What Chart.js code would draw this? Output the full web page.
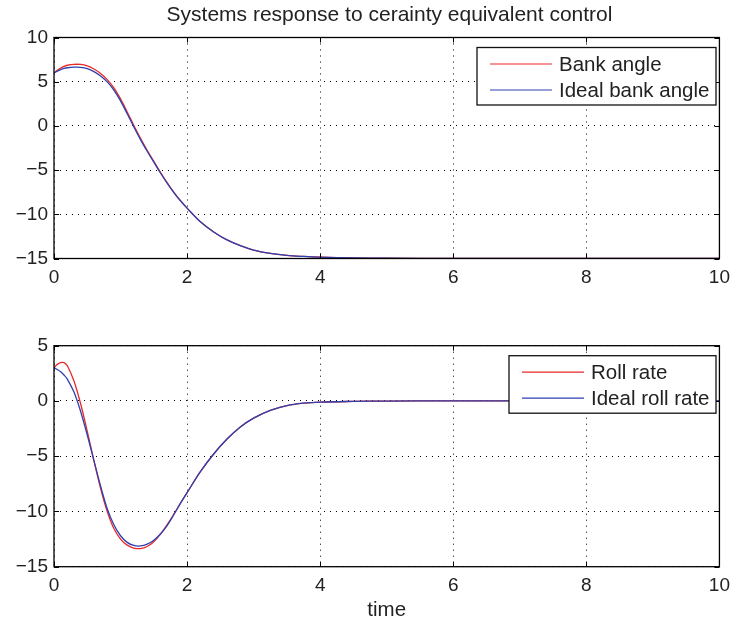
<!DOCTYPE html>
<html>
<head>
<meta charset="utf-8">
<script src="https://cdn.jsdelivr.net/npm/chart.js@4.4.1/dist/chart.umd.min.js"></script>
<style>
  body { margin: 0; background: #fff; }
  #wrap { position: relative; width: 738px; height: 627px; font-family: "Liberation Sans", Arial, sans-serif; }
  #title { position: absolute; left: 54px; width: 671px; top: 2px; line-height: 24px; text-align: center; font-size: 21px; color: #222; }
  #top-box { position: absolute; left: 0; top: 0; width: 738px; height: 300px; }
  #bot-box { position: absolute; left: 0; top: 300px; width: 738px; height: 327px; }
</style>
</head>
<body>
<div id="wrap">
  <div id="top-box"><canvas id="topChart"></canvas></div>
  <div id="bot-box"><canvas id="botChart"></canvas></div>
  <div id="title">Systems response to cerainty equivalent control</div>
</div>
<script>
const time = [0, 0.05, 0.1, 0.15, 0.2, 0.3, 0.4, 0.5, 0.6, 0.7, 0.8, 0.9, 1.0, 1.1, 1.2, 1.3, 1.4, 1.5, 1.6, 1.7, 1.8, 1.9, 2.0, 2.2, 2.4, 2.6, 2.8, 3.0, 3.25, 3.5, 3.75, 4.0, 4.5, 5, 6, 7, 8, 9, 10];

const bankAngle = [6.0, 6.3, 6.55, 6.74, 6.86, 6.96, 6.95, 6.78, 6.43, 5.92, 5.23, 4.3, 3.05, 1.58, 0.05, -1.4, -2.75, -4.0, -5.25, -6.42, -7.5, -8.45, -9.3, -10.85, -12.0, -12.9, -13.55, -14.05, -14.42, -14.65, -14.77, -14.85, -14.93, -14.97, -15, -15, -15, -15, -15];
const idealBankAngle = [6.0, 6.2, 6.37, 6.5, 6.58, 6.64, 6.62, 6.47, 6.14, 5.65, 4.98, 4.06, 2.83, 1.38, -0.12, -1.55, -2.87, -4.1, -5.33, -6.48, -7.54, -8.47, -9.3, -10.85, -12.0, -12.9, -13.55, -14.05, -14.42, -14.65, -14.77, -14.85, -14.93, -14.97, -15, -15, -15, -15, -15];

const rollRate = [3.0, 3.31, 3.47, 3.47, 3.18, 1.8, -0.25, -2.75, -5.4, -7.9, -10.0, -11.55, -12.5, -13.05, -13.32, -13.36, -13.17, -12.74, -12.06, -11.2, -10.25, -9.26, -8.3, -6.4, -4.8, -3.45, -2.35, -1.55, -0.85, -0.42, -0.2, -0.1, -0.04, -0.01, 0, 0, 0, 0, 0];
const idealRollRate = [3.0, 2.85, 2.64, 2.35, 1.98, 0.8, -0.95, -3.08, -5.4, -7.7, -9.75, -11.2, -12.2, -12.8, -13.08, -13.12, -12.96, -12.6, -12.04, -11.28, -10.3, -9.27, -8.3, -6.4, -4.8, -3.45, -2.35, -1.55, -0.85, -0.42, -0.2, -0.1, -0.04, -0.01, 0, 0, 0, 0, 0];

const xTicks = [0, 2, 4, 6, 8, 10];
const topYTicks = [-15, -10, -5, 0, 5, 10];
const botYTicks = [-15, -10, -5, 0, 5];

const RED = 'rgb(235, 40, 40)';
const BLUE = 'rgb(45, 65, 175)';
const FONT = '"Liberation Sans", Arial, sans-serif';

function pts(ys) {
    return time.map((t, i) => ({ x: t, y: ys[i] }));
}

function fmt(v) {
    return String(v).replace('-', '\u2212');
}

// matlab style box, inward ticks and legend
const matlabBox = {
    id: 'matlabBox',
    afterDraw(chart, args, opts) {
        const ctx = chart.ctx;
        const a = chart.chartArea;
        const xs = chart.scales.x, ys = chart.scales.y;
        ctx.save();
        ctx.strokeStyle = '#000';
        ctx.lineWidth = 1;
        ctx.beginPath();
        xs.ticks.forEach(t => {
            const px = Math.round(xs.getPixelForValue(t.value)) + 0.5;
            ctx.moveTo(px, a.bottom); ctx.lineTo(px, a.bottom - 5);
            ctx.moveTo(px, a.top); ctx.lineTo(px, a.top + 5);
        });
        ys.ticks.forEach(t => {
            const py = Math.round(ys.getPixelForValue(t.value)) + 0.5;
            ctx.moveTo(a.left, py); ctx.lineTo(a.left + 5, py);
            ctx.moveTo(a.right, py); ctx.lineTo(a.right - 5, py);
        });
        ctx.stroke();
        ctx.lineWidth = 1.3;
        ctx.strokeRect(a.left, a.top, a.right - a.left, a.bottom - a.top);

        // legend
        const lg = opts.box;
        ctx.fillStyle = '#fff';
        ctx.fillRect(lg.x, lg.y, lg.w, lg.h);
        ctx.lineWidth = 1.3;
        ctx.strokeStyle = '#111';
        ctx.strokeRect(lg.x, lg.y, lg.w, lg.h);
        ctx.font = '20.5px ' + FONT;
        ctx.textBaseline = 'middle';
        const items = chart.data.datasets.slice().sort((p, q) => p.legendIndex - q.legendIndex);
        items.forEach((ds, i) => {
            const cy = lg.y + 16.5 + i * 26;
            ctx.strokeStyle = ds.borderColor;
            ctx.lineWidth = 1.2;
            ctx.beginPath();
            ctx.moveTo(lg.x + 13, cy);
            ctx.lineTo(lg.x + 75, cy);
            ctx.stroke();
            ctx.fillStyle = '#222';
            ctx.fillText(ds.label, lg.x + 82, cy + 1);
        });
        ctx.restore();
    }
};

function makeChart(id, series, labels, yMin, yMax, yTicks, top, height, xTitle, legendBox) {
    const axisBottom = top + 221;
    return new Chart(document.getElementById(id), {
        type: 'line',
        data: {
            datasets: [
                { label: labels[0], data: pts(series[0]), borderColor: RED, borderWidth: 1.3, pointRadius: 0, tension: 0.35, order: 1, legendIndex: 0 },
                { label: labels[1], data: pts(series[1]), borderColor: BLUE, borderWidth: 1.3, pointRadius: 0, tension: 0.35, order: 0, legendIndex: 1 }
            ]
        },
        options: {
            responsive: false,
            animation: false,
            layout: { padding: { top: top, right: 13, left: 0, bottom: 0 } },
            scales: {
                x: {
                    type: 'linear',
                    min: 0, max: 10,
                    afterBuildTicks: s => { s.ticks = xTicks.map(v => ({ value: v })); },
                    afterFit: s => { s.height = height - axisBottom; },
                    grid: { color: '#000', lineWidth: 1, drawTicks: false },
                    border: { display: false, dash: [1, 5] },
                    ticks: { color: '#222', font: { family: FONT, size: 19 }, padding: 8, maxRotation: 0, callback: v => fmt(v) },
                    title: { display: !!xTitle, text: xTitle, color: '#222', font: { family: FONT, size: 20.5, lineHeight: 1.2 }, padding: { top: 0, bottom: 4 } }
                },
                y: {
                    min: yMin, max: yMax,
                    afterBuildTicks: s => { s.ticks = yTicks.map(v => ({ value: v })); },
                    afterFit: s => { s.width = 54; },
                    grid: { color: '#000', lineWidth: 1, drawTicks: false },
                    border: { display: false, dash: [1, 5] },
                    ticks: { color: '#222', font: { family: FONT, size: 19 }, padding: 6, callback: v => fmt(v) }
                }
            },
            plugins: {
                legend: { display: false },
                tooltip: { enabled: false },
                matlabBox: { box: legendBox }
            }
        },
        plugins: [matlabBox]
    });
}

function setup(id, w, h) {
    const c = document.getElementById(id);
    c.width = w; c.height = h;
    c.style.width = w + 'px'; c.style.height = h + 'px';
}

setup('topChart', 738, 300);
setup('botChart', 738, 327);

makeChart('topChart', [bankAngle, idealBankAngle], ['Bank angle', 'Ideal bank angle'], -15, 10, topYTicks, 37.5, 300, '', { x: 477, y: 47.5, w: 239, h: 57.5 });
makeChart('botChart', [rollRate, idealRollRate], ['Roll rate', 'Ideal roll rate'], -15, 5, botYTicks, 45.7, 327, 'time', { x: 509, y: 55.7, w: 207, h: 57.5 });
</script>
</body>
</html>
